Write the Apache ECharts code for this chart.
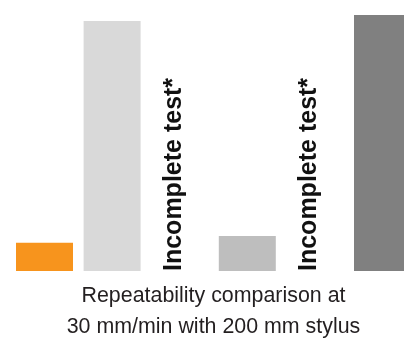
<!DOCTYPE html>
<html><head><meta charset="utf-8">
<script src="https://cdn.jsdelivr.net/npm/echarts@6/dist/echarts.min.js"></script>
<style>html,body{margin:0;padding:0;background:#fff}#c{width:404px;height:340px}</style>
</head><body><div id="c"></div>
<script>
var categories = ['A', 'B', 'C', 'D', 'E', 'F'];
var values = [1.1, 9.77, null, 1.37, null, 10];
var colors = ['#f7941d', '#d9d9d9', '#ffffff', '#bebebe', '#ffffff', '#808080'];
var incompleteLabel = 'Incomplete test*';
var axisTitle = 'Repeatability comparison at\n30 mm/min with 200 mm stylus';

var data = values.map(function (v, i) {
  if (v === null) {
    return {
      value: 0,
      itemStyle: { color: 'rgba(0,0,0,0)' },
      label: {
        show: true, formatter: incompleteLabel, position: 'insideBottom',
        rotate: 90, align: 'left', verticalAlign: 'middle', distance: 0,
        offset: [0, -6],
        fontFamily: 'Liberation Sans, Arial, sans-serif', fontWeight: 'bold',
        fontSize: 25, color: '#111111'
      }
    };
  }
  return { value: v, itemStyle: { color: colors[i] } };
});

var chart = echarts.init(document.getElementById('c'), null, { renderer: 'canvas' });
chart.setOption({
  animation: false,
  grid: { left: 10.7, right: -12.3, top: 15, bottom: 69, containLabel: false, outerBoundsMode: 'none' },
  xAxis: {
    type: 'category', data: categories,
    axisLine: { show: false }, axisTick: { show: false }, axisLabel: { show: false },
    name: axisTitle, nameLocation: 'middle', nameGap: 10,
    nameTextStyle: { fontFamily: 'Liberation Sans, Arial, sans-serif', fontSize: 21.4, color: '#231f20', lineHeight: 31 }
  },
  yAxis: {
    type: 'value', min: 0, max: 10, show: false,
    splitLine: { show: false }
  },
  series: [{
    type: 'bar', data: data, barWidth: 57
  }]
});
</script></body></html>
